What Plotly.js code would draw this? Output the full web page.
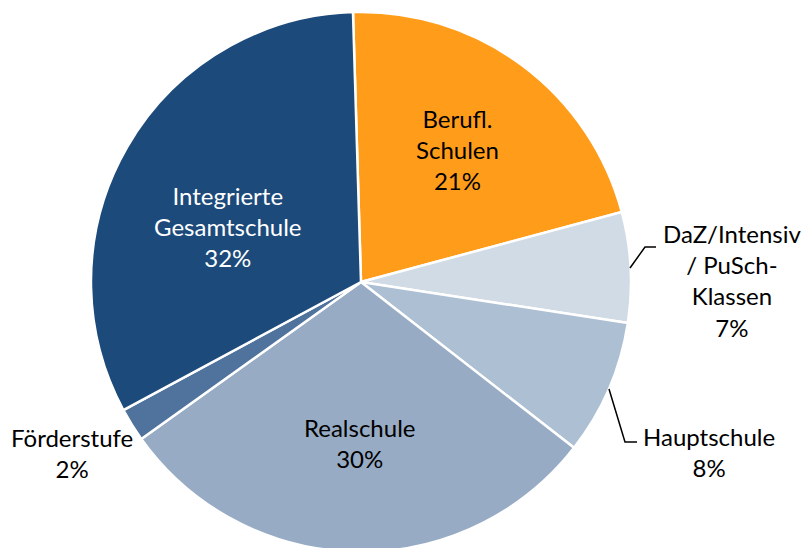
<!DOCTYPE html>
<html>
<head>
<meta charset="utf-8">
<script src="https://cdn.plot.ly/plotly-3.0.1.min.js"></script>
<style>html,body{margin:0;padding:0;overflow:hidden;background:#fff}#chart{width:803px;height:552px}</style>
</head>
<body>
<div id="chart"></div>
<script>
// Data
const categories = ["Berufl. Schulen", "DaZ/Intensiv / PuSch-Klassen", "Hauptschule", "Realschule", "Förderstufe", "Integrierte Gesamtschule"];
const labelLines = ["Berufl.<br>Schulen", "DaZ/Intensiv<br>/ PuSch-<br>Klassen", "Hauptschule", "Realschule", "Förderstufe", "Integrierte<br>Gesamtschule"];
const values = [21.3, 6.6, 8.1, 29.6, 2.0, 32.4];
const colors = ["#FF9D1A", "#D1DBE6", "#ADBFD3", "#97ACC4", "#4F739C", "#1C4A7A"];
const textColors = ["#000000", "#000000", "#000000", "#000000", "#000000", "#FFFFFF"];

// Layout helpers (pixel positions of labels)
const W = 803, H = 552;
const px = x => x / W;
const py = y => 1 - y / H;
const labelPos = [[457, 149], [732, 280], [709, 452], [359, 443], [72, 453], [228, 226]];

const total = values.reduce((a, b) => a + b, 0);
const annotations = categories.map((c, i) => ({
  xref: "paper", yref: "paper",
  x: px(labelPos[i][0]), y: py(labelPos[i][1]),
  xanchor: "center", yanchor: "middle",
  text: labelLines[i] + "<br>" + Math.round(values[i] / total * 100) + "%",
  showarrow: false,
  font: {family: "Lato, 'Open Sans', sans-serif", size: 24, color: textColors[i]},
  align: "center"
}));

const lineStyle = {color: "#000000", width: 1.5};
function seg(pts) {
  return pts.map((p, i) => (i ? "L" : "M") + px(p[0]) + "," + py(p[1])).join(" ");
}
const shapes = [
  {type: "path", xref: "paper", yref: "paper", path: seg([[630, 268], [645, 247], [656, 247]]), line: lineStyle},
  {type: "path", xref: "paper", yref: "paper", path: seg([[609, 389], [625, 442], [637, 442]]), line: lineStyle}
];

const trace = {
  type: "pie",
  labels: categories,
  values: values,
  sort: false,
  direction: "clockwise",
  rotation: -1.7,
  marker: {colors: colors, line: {color: "#FFFFFF", width: 2.5}},
  textinfo: "none",
  hoverinfo: "label+percent",
  domain: {x: [0.1133, 0.7858], y: [0, 0.9783]}
};

Plotly.newPlot("chart", [trace], {
  width: W, height: H,
  margin: {l: 0, r: 0, t: 0, b: 0, pad: 0},
  showlegend: false,
  paper_bgcolor: "#FFFFFF",
  annotations: annotations,
  shapes: shapes
}, {displayModeBar: false, staticPlot: true});
</script>
</body>
</html>
